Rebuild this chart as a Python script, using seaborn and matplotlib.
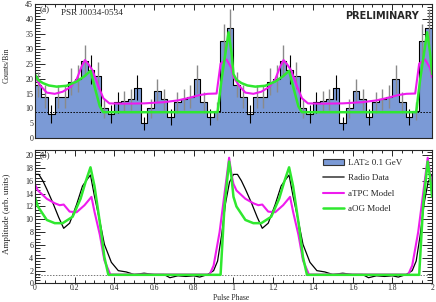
import numpy as np
import pandas as pd
import seaborn as sns
import matplotlib
matplotlib.use("Agg")
import matplotlib.pyplot as plt
from matplotlib.ticker import MultipleLocator
from matplotlib.patches import Patch
from matplotlib.lines import Line2D

# one rotation, 30 phase bins (the plot shows two rotations)
counts = [18, 14, 8, 14, 14, 19, 20, 26, 23, 21, 10, 8, 12, 12.5, 13,
          17, 5, 10, 16, 13, 7, 12, 13, 14, 20, 12, 7, 9, 32.5, 37]
count_err = [4.3, 3.8, 3.0, 3.8, 3.8, 4.4, 4.5, 5.1, 4.8, 4.6, 3.2, 3.0, 3.5, 3.5, 3.6,
             4.1, 2.3, 3.2, 4.0, 3.6, 2.7, 3.5, 3.6, 3.8, 4.7, 3.5, 2.7, 3.0, 5.9, 6.2]
dark_err_bins = [2, 8, 11, 12, 15, 16, 20, 26]
bkg_counts = 8.7

# model curves fitted to the gamma-ray profile (top panel)
top_tpc_phase = [0.0, 0.03, 0.06, 0.1, 0.14, 0.18, 0.21, 0.235, 0.252, 0.27, 0.29, 0.32,
                 0.345, 0.375, 0.45, 0.55, 0.65, 0.72, 0.78, 0.83, 0.87, 0.915, 0.935,
                 0.965, 0.99, 1.0]
top_tpc = [20.5, 17.5, 15.3, 14.9, 15.6, 17.2, 19.7, 24.0, 26.2, 24.8, 22.8, 17.4,
           13.4, 11.7, 11.6, 11.7, 12.1, 12.7, 13.6, 14.5, 14.9, 15.0, 25.0,
           26.4, 23.5, 20.5]
top_og_phase = [0.0, 0.015, 0.04, 0.07, 0.11, 0.16, 0.21, 0.25, 0.28, 0.30, 0.327,
                0.344, 0.92, 0.94, 0.975, 0.99, 1.0]
top_og = [21.5, 19.6, 18.5, 17.7, 17.3, 17.6, 19.0, 20.8, 22.6, 17.4, 10.7,
          8.75, 8.75, 19.7, 35.5, 28.7, 21.5]

# radio profile and light-curve models (bottom panel)
radio_phase = [0.0, 0.02, 0.04, 0.06, 0.09, 0.12, 0.145, 0.175, 0.21, 0.24, 0.265, 0.28,
               0.30, 0.327, 0.35, 0.385, 0.42, 0.46, 0.50, 0.55, 0.60, 0.65, 0.68, 0.72,
               0.76, 0.80, 0.83, 0.87, 0.90, 0.92, 0.94, 0.96, 0.98, 1.0]
radio = [17.0, 17.0, 16.0, 14.7, 12.6, 10.3, 8.6, 9.4, 12.3, 15.2, 16.3, 16.9,
         13.6, 9.7, 6.1, 3.3, 2.0, 1.8, 1.4, 1.6, 1.4, 1.4, 0.9, 1.2,
         1.1, 1.2, 1.0, 1.4, 2.0, 3.5, 7.5, 12.5, 15.8, 17.0]
tpc_phase = [0.0, 0.015, 0.06, 0.10, 0.125, 0.145, 0.175, 0.21, 0.25, 0.285, 0.30,
             0.327, 0.35, 0.38, 0.88, 0.90, 0.93, 0.955, 0.978, 0.99, 1.0]
tpc = [15.5, 14.5, 13.2, 12.5, 12.2, 12.3, 11.2, 11.1, 12.2, 13.5, 11.2,
       7.6, 3.6, 1.4, 1.4, 2.8, 8.0, 14.0, 19.6, 17.0, 15.5]
og_phase = [0.0, 0.015, 0.06, 0.10, 0.14, 0.19, 0.23, 0.255, 0.28, 0.30, 0.33,
            0.35, 0.37, 0.935, 0.955, 0.978, 0.99, 1.0]
og = [13.5, 12.0, 9.9, 9.4, 9.4, 10.4, 13.2, 15.8, 18.1, 15.2, 8.9,
      4.1, 1.35, 1.35, 12.2, 19.0, 16.5, 13.5]
bkg_amp = 1.4

BLUE = "#7b9ad6"
MAGENTA = "#ee1bee"
GREEN = "#2fe82f"


def two_rot(phase, vals):
    ph = np.asarray(phase, float)
    return pd.DataFrame({"phase": np.concatenate([ph, ph + 1]),
                         "value": np.concatenate([vals, vals])})


sns.set_theme(style="ticks")
plt.rcParams["font.family"] = ["Liberation Serif", "DejaVu Serif"]
plt.rcParams["axes.linewidth"] = 0.8

fig = plt.figure(figsize=(4.36, 3.02), dpi=100)
ax1 = fig.add_axes([0.080, 0.542, 0.911, 0.445])
ax2 = fig.add_axes([0.080, 0.0613, 0.911, 0.4420])

# ---- top panel: gamma-ray histogram
nb = len(counts)
edges = np.linspace(0, 2, 2 * nb + 1)
centers = (edges[:-1] + edges[1:]) / 2
cnt2 = np.concatenate([counts, counts])
err2 = np.concatenate([count_err, count_err])
hist_df = pd.DataFrame({"phase": centers, "count": cnt2})
sns.histplot(data=hist_df, x="phase", weights="count", bins=edges.tolist(),
             color=BLUE, alpha=1, linewidth=0, ax=ax1)
sns.histplot(data=hist_df, x="phase", weights="count", bins=edges.tolist(),
             element="step", fill=False, color="black", linewidth=0.8, ax=ax1)
dark = np.array([i % nb in dark_err_bins for i in range(2 * nb)])
ax1.errorbar(centers[~dark], cnt2[~dark], yerr=err2[~dark], fmt="none",
             ecolor="#8a8a8a", elinewidth=1.0)
ax1.errorbar(centers[dark], cnt2[dark], yerr=err2[dark], fmt="none",
             ecolor="black", elinewidth=0.8)
ax1.axhline(bkg_counts, color="black", ls=(0, (1.5, 1.5)), lw=0.7)
sns.lineplot(data=two_rot(top_tpc_phase, top_tpc), x="phase", y="value",
             color=MAGENTA, lw=1.5, sort=False, estimator=None, ax=ax1)
sns.lineplot(data=two_rot(top_og_phase, top_og), x="phase", y="value",
             color=GREEN, lw=1.8, sort=False, estimator=None, ax=ax1)
ax1.set_ylim(0, 45)
ax1.set_ylabel("Counts/Bin", fontsize=5.6)
ax1.yaxis.set_label_coords(-0.06, 0.546)
ax1.set_xlabel("")
ax1.yaxis.set_major_locator(MultipleLocator(5))
ax1.yaxis.set_minor_locator(MultipleLocator(1))
ax1.tick_params(labelbottom=False)
ax1.text(0.025, 42.3, "(a)", fontsize=6.6)
ax1.text(0.13, 41.3, "PSR J0034-0534", fontsize=6.6)
ax1.text(0.875, 0.91, "PRELIMINARY", transform=ax1.transAxes, ha="center",
         va="center", fontsize=7, fontweight="bold", family="DejaVu Sans")

# ---- bottom panel: radio profile and models
ax2.axhline(bkg_amp, color="#777777", ls=(0, (1.5, 1.5)), lw=0.7)
sns.lineplot(data=two_rot(radio_phase, radio), x="phase", y="value",
             color="black", lw=0.9, sort=False, estimator=None, ax=ax2)
sns.lineplot(data=two_rot(tpc_phase, tpc), x="phase", y="value",
             color=MAGENTA, lw=1.5, sort=False, estimator=None, ax=ax2)
sns.lineplot(data=two_rot(og_phase, og), x="phase", y="value",
             color=GREEN, lw=1.8, sort=False, estimator=None, ax=ax2)
ax2.set_ylim(0, 20.8)
ax2.set_ylabel("Amplitude (arb. units)", fontsize=6.5)
ax2.yaxis.set_label_coords(-0.06, 0.524)
ax2.set_xlabel("")
fig.text(0.53, 0.0, "Pulse Phase", ha="center", va="bottom", fontsize=5.5)
ax2.yaxis.set_major_locator(MultipleLocator(2))
ax2.yaxis.set_minor_locator(MultipleLocator(0.5))
ax2.text(0.025, 19.7, "(b)", fontsize=6.6)
handles = [Patch(facecolor=BLUE, edgecolor="#333333", linewidth=0.8),
           Line2D([], [], color="#444444", lw=1.2),
           Line2D([], [], color=MAGENTA, lw=1.5),
           Line2D([], [], color=GREEN, lw=1.8)]
labels = ["LAT\u2265 0.1 GeV", "Radio Data", "aTPC Model", "aOG Model"]
ax2.legend(handles, labels, loc="upper left", bbox_to_anchor=(0.705, 0.995),
           frameon=False, fontsize=6.5, handlelength=2.3, handletextpad=0.5,
           labelspacing=0.78)

for ax in (ax1, ax2):
    ax.set_xlim(0, 2)
    ax.xaxis.set_major_locator(MultipleLocator(0.2))
    ax.xaxis.set_minor_locator(MultipleLocator(0.05))
    ax.tick_params(which="both", direction="in", top=True, right=True,
                   labelsize=5.8, pad=1.2, width=0.7)
    ax.tick_params(axis="y", which="major", length=7)
    ax.tick_params(axis="y", which="minor", length=3.5)
    ax.tick_params(axis="x", which="major", length=4)
    ax.tick_params(axis="x", which="minor", length=2)
ax2.tick_params(axis="x", labelsize=5.5, pad=0.5)
ax2.set_xticks(np.arange(0, 2.01, 0.2))
ax2.set_xticklabels(["0", "0.2", "0.4", "0.6", "0.8", "1", "1.2", "1.4", "1.6", "1.8", "2"])

fig.savefig("out.png", dpi=100)
